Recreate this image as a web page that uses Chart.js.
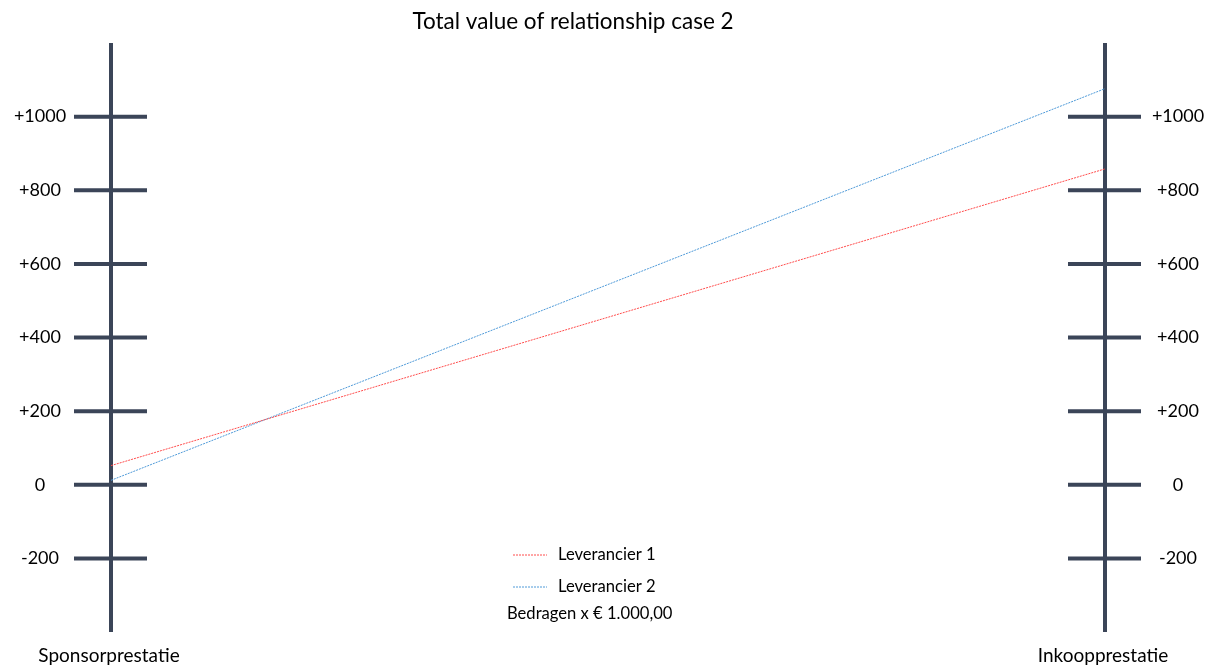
<!DOCTYPE html>
<html>
<head>
<meta charset="utf-8">
<script src="https://cdn.jsdelivr.net/npm/chart.js@4.4.1/dist/chart.umd.min.js"></script>
<style>
html,body{margin:0;padding:0;background:#fff;}
#wrap{position:relative;width:1214px;height:665px;}
</style>
</head>
<body>
<div id="wrap"><canvas id="c" width="1214" height="665"></canvas></div>
<script>
const categories = ['Sponsorprestatie', 'Inkoopprestatie'];
const leverancier1 = [52, 858];
const leverancier2 = [12, 1076];
const tickValues = [-200, 0, 200, 400, 600, 800, 1000];
const tickLabels = ['-200', '0', '+200', '+400', '+600', '+800', '+1000'];
const seriesNames = ['Leverancier 1', 'Leverancier 2'];
const titleText = 'Total value of relationship case 2';
const noteText = 'Bedragen x \u20AC 1.000,00';

const FONT = 'Lato, "Open Sans", sans-serif';
const AXIS_COLOR = '#3b4558';

const axesPlugin = {
  id: 'customAxes',
  beforeDatasetsDraw(chart) {
    const ctx = chart.ctx;
    const xs = chart.scales.x, ys = chart.scales.y;
    const top = ys.getPixelForValue(ys.max), bottom = ys.getPixelForValue(ys.min);
    ctx.save();
    ctx.strokeStyle = AXIS_COLOR;
    ctx.lineWidth = 4;
    categories.forEach((c, i) => {
      const x = xs.getPixelForValue(i);
      ctx.beginPath();
      ctx.moveTo(x, top);
      ctx.lineTo(x, bottom);
      ctx.stroke();
      tickValues.forEach(v => {
        const y = ys.getPixelForValue(v);
        ctx.beginPath();
        ctx.moveTo(x - 37, y);
        ctx.lineTo(x + 36, y);
        ctx.stroke();
      });
    });
    // tick labels
    ctx.fillStyle = '#000';
    ctx.font = '18px ' + FONT;
    ctx.textAlign = 'center';
    ctx.textBaseline = 'middle';
    const lx = xs.getPixelForValue(0) - 71, rx = xs.getPixelForValue(1) + 73;
    tickValues.forEach((v, k) => {
      const y = ys.getPixelForValue(v);
      ctx.fillText(tickLabels[k], lx, y);
      ctx.fillText(tickLabels[k], rx, y);
    });
    // category labels
    ctx.font = '19px ' + FONT;
    ctx.fillText(categories[0], xs.getPixelForValue(0) - 2, 656);
    ctx.fillText(categories[1], xs.getPixelForValue(1) - 2, 656);
    // title
    ctx.font = '22.5px ' + FONT;
    ctx.fillText(titleText, 573, 22);
    // legend
    ctx.font = '16.6px ' + FONT;
    ctx.textAlign = 'left';
    const legY = [555, 587];
    chart.data.datasets.forEach((ds, i) => {
      ctx.save();
      ctx.strokeStyle = ds.borderColor;
      ctx.lineWidth = 1;
      ctx.setLineDash([2, 1]);
      ctx.beginPath();
      ctx.moveTo(513, legY[i]);
      ctx.lineTo(547, legY[i]);
      ctx.stroke();
      ctx.restore();
      ctx.fillText(ds.label, 558, legY[i]);
    });
    ctx.fillText(noteText, 507, 614);
    ctx.restore();
  }
};

new Chart(document.getElementById('c'), {
  type: 'line',
  data: {
    labels: categories,
    datasets: [
      { label: seriesNames[0], data: leverancier1, borderColor: '#ff4d4d', borderWidth: 1, borderDash: [2, 1], pointRadius: 0, fill: false, tension: 0 },
      { label: seriesNames[1], data: leverancier2, borderColor: '#4f9ad8', borderWidth: 1, borderDash: [2, 1], pointRadius: 0, fill: false, tension: 0 }
    ]
  },
  options: {
    responsive: false,
    animation: false,
    layout: { padding: { left: 111, right: 109, top: 43, bottom: 33 } },
    plugins: { legend: { display: false }, title: { display: false }, tooltip: { enabled: false } },
    scales: {
      x: { type: 'category', offset: false, display: false },
      y: { type: 'linear', min: -400, max: 1200, display: false }
    }
  },
  plugins: [axesPlugin]
});
</script>
</body>
</html>
